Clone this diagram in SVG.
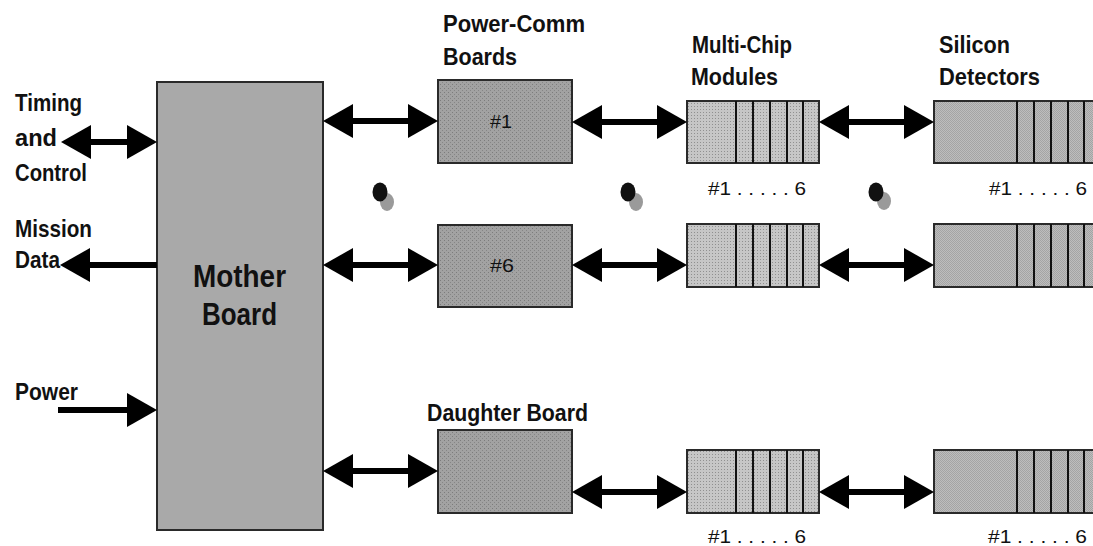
<svg xmlns="http://www.w3.org/2000/svg" width="1093" height="546" viewBox="0 0 1093 546">
<style>
.lbl{font-family:"Liberation Sans",Arial,sans-serif;font-weight:bold;font-size:24.5px;fill:#111}
.big{font-family:"Liberation Sans",Arial,sans-serif;font-weight:bold;font-size:32px;fill:#111}
.num{font-family:"Liberation Sans",Arial,sans-serif;font-size:19px;fill:#111}
.box{stroke:#2a2a2a;stroke-width:2}
.div{stroke:#111;stroke-width:2}
.conn{stroke:#000;stroke-width:6;fill:none}
</style>
<defs>
<marker id="ah" markerUnits="userSpaceOnUse" markerWidth="31" markerHeight="35" refX="0" refY="17" orient="auto-start-reverse" overflow="visible">
<path d="M0,0 L30,17 L0,34 Z" fill="#000"/>
</marker>
<pattern id="stip" width="4" height="4" patternUnits="userSpaceOnUse">
<rect width="4" height="4" fill="#a2a2a2"/>
<rect x="0" y="0" width="1" height="1" fill="#7c7c7c"/>
<rect x="2" y="2" width="1" height="1" fill="#868686"/>
</pattern>
<pattern id="grid" width="3" height="3" patternUnits="userSpaceOnUse">
<rect width="3" height="3" fill="#c6c6c6"/>
<rect x="1" y="1" width="1" height="1" fill="#909090"/>
</pattern>
<pattern id="chk" width="2" height="2" patternUnits="userSpaceOnUse">
<rect width="2" height="2" fill="#bdbdbd"/>
<rect width="1" height="1" fill="#a4a4a4"/>
<rect x="1" y="1" width="1" height="1" fill="#a4a4a4"/>
</pattern>
</defs>
<rect width="1093" height="546" fill="#fff"/>

<g id="labels-left">
<text class="lbl" x="15" y="111" textLength="67" lengthAdjust="spacingAndGlyphs">Timing</text>
<text class="lbl" x="15" y="146" textLength="42" lengthAdjust="spacingAndGlyphs">and</text>
<text class="lbl" x="15" y="181" textLength="72" lengthAdjust="spacingAndGlyphs">Control</text>
<text class="lbl" x="15" y="237" textLength="77" lengthAdjust="spacingAndGlyphs">Mission</text>
<text class="lbl" x="15" y="268" textLength="45" lengthAdjust="spacingAndGlyphs">Data</text>
<text class="lbl" x="15" y="400" textLength="63" lengthAdjust="spacingAndGlyphs">Power</text>
</g>

<g id="mother-board">
<rect class="box" x="157" y="82" width="166" height="448" fill="#a9a9a9"/>
<text class="big" x="193" y="287" textLength="93" lengthAdjust="spacingAndGlyphs">Mother</text>
<text class="big" x="202" y="325" textLength="75" lengthAdjust="spacingAndGlyphs">Board</text>
</g>

<g id="headers">
<text class="lbl" x="443" y="32" textLength="142" lengthAdjust="spacingAndGlyphs">Power-Comm</text>
<text class="lbl" x="443" y="65" textLength="74" lengthAdjust="spacingAndGlyphs">Boards</text>
<text class="lbl" x="692" y="53" textLength="100" lengthAdjust="spacingAndGlyphs">Multi-Chip</text>
<text class="lbl" x="691" y="85" textLength="87" lengthAdjust="spacingAndGlyphs">Modules</text>
<text class="lbl" x="939" y="53" textLength="71" lengthAdjust="spacingAndGlyphs">Silicon</text>
<text class="lbl" x="939" y="85" textLength="101" lengthAdjust="spacingAndGlyphs">Detectors</text>
</g>

<g id="pc-board-1">
<rect class="box" x="438" y="80" width="134" height="83" fill="url(#stip)"/>
<text class="num" x="490" y="128" textLength="22" lengthAdjust="spacingAndGlyphs">#1</text>
</g>
<g id="pc-board-6">
<rect class="box" x="438" y="225" width="134" height="82" fill="url(#stip)"/>
<text class="num" x="490" y="272" textLength="24" lengthAdjust="spacingAndGlyphs">#6</text>
</g>
<g id="daughter-board">
<text class="lbl" x="427" y="421" textLength="161" lengthAdjust="spacingAndGlyphs">Daughter Board</text>
<rect class="box" x="438" y="430" width="134" height="83" fill="url(#stip)"/>
</g>

<g id="mcm-1">
<rect class="box" x="687" y="101" width="132" height="62" fill="url(#grid)"/>
<path class="div" d="M736,101V163M753,101V163M770,101V163M787,101V163M803,101V163"/>
<text class="num" x="708" y="195" textLength="98" lengthAdjust="spacingAndGlyphs">#1 . . . . . 6</text>
</g>
<g id="mcm-2">
<rect class="box" x="687" y="224" width="132" height="63" fill="url(#grid)"/>
<path class="div" d="M736,224V287M753,224V287M770,224V287M787,224V287M803,224V287"/>
</g>
<g id="mcm-3">
<rect class="box" x="687" y="450" width="132" height="63" fill="url(#grid)"/>
<path class="div" d="M736,450V513M753,450V513M770,450V513M787,450V513M803,450V513"/>
<text class="num" x="708" y="543" textLength="98" lengthAdjust="spacingAndGlyphs">#1 . . . . . 6</text>
</g>

<g id="sd-1">
<rect class="box" x="934" y="101" width="170" height="62" fill="url(#chk)"/>
<path class="div" d="M1017,101V163M1034,101V163M1051,101V163M1068,101V163M1084,101V163"/>
<text class="num" x="989" y="195" textLength="98" lengthAdjust="spacingAndGlyphs">#1 . . . . . 6</text>
</g>
<g id="sd-2">
<rect class="box" x="934" y="224" width="170" height="63" fill="url(#chk)"/>
<path class="div" d="M1017,224V287M1034,224V287M1051,224V287M1068,224V287M1084,224V287"/>
</g>
<g id="sd-3">
<rect class="box" x="934" y="450" width="170" height="63" fill="url(#chk)"/>
<path class="div" d="M1017,450V513M1034,450V513M1051,450V513M1068,450V513M1084,450V513"/>
<text class="num" x="988" y="543" textLength="99" lengthAdjust="spacingAndGlyphs">#1 . . . . . 6</text>
</g>

<g id="ellipsis-dots">
<ellipse cx="387" cy="202" rx="7" ry="9" fill="#9a9a9a"/>
<ellipse cx="380" cy="192" rx="7.5" ry="9.5" fill="#111"/>
<ellipse cx="636" cy="202" rx="7" ry="9" fill="#9a9a9a"/>
<ellipse cx="628" cy="192" rx="7.5" ry="9.5" fill="#111"/>
<ellipse cx="884" cy="201" rx="7" ry="9" fill="#9a9a9a"/>
<ellipse cx="876" cy="192" rx="7.5" ry="9.5" fill="#111"/>
</g>

<g id="connectors">
<path class="conn" d="M91,142H127" marker-start="url(#ah)" marker-end="url(#ah)"/>
<path class="conn" d="M157,265H90" marker-end="url(#ah)"/>
<path class="conn" d="M58,410H127" marker-end="url(#ah)"/>

<path class="conn" d="M353,121H408" marker-start="url(#ah)" marker-end="url(#ah)"/>
<path class="conn" d="M602,122H657" marker-start="url(#ah)" marker-end="url(#ah)"/>
<path class="conn" d="M849,122H904" marker-start="url(#ah)" marker-end="url(#ah)"/>

<path class="conn" d="M353,265H408" marker-start="url(#ah)" marker-end="url(#ah)"/>
<path class="conn" d="M602,265H657" marker-start="url(#ah)" marker-end="url(#ah)"/>
<path class="conn" d="M849,265H904" marker-start="url(#ah)" marker-end="url(#ah)"/>

<path class="conn" d="M353,471H408" marker-start="url(#ah)" marker-end="url(#ah)"/>
<path class="conn" d="M602,492H657" marker-start="url(#ah)" marker-end="url(#ah)"/>
<path class="conn" d="M849,492H904" marker-start="url(#ah)" marker-end="url(#ah)"/>
</g>
</svg>
